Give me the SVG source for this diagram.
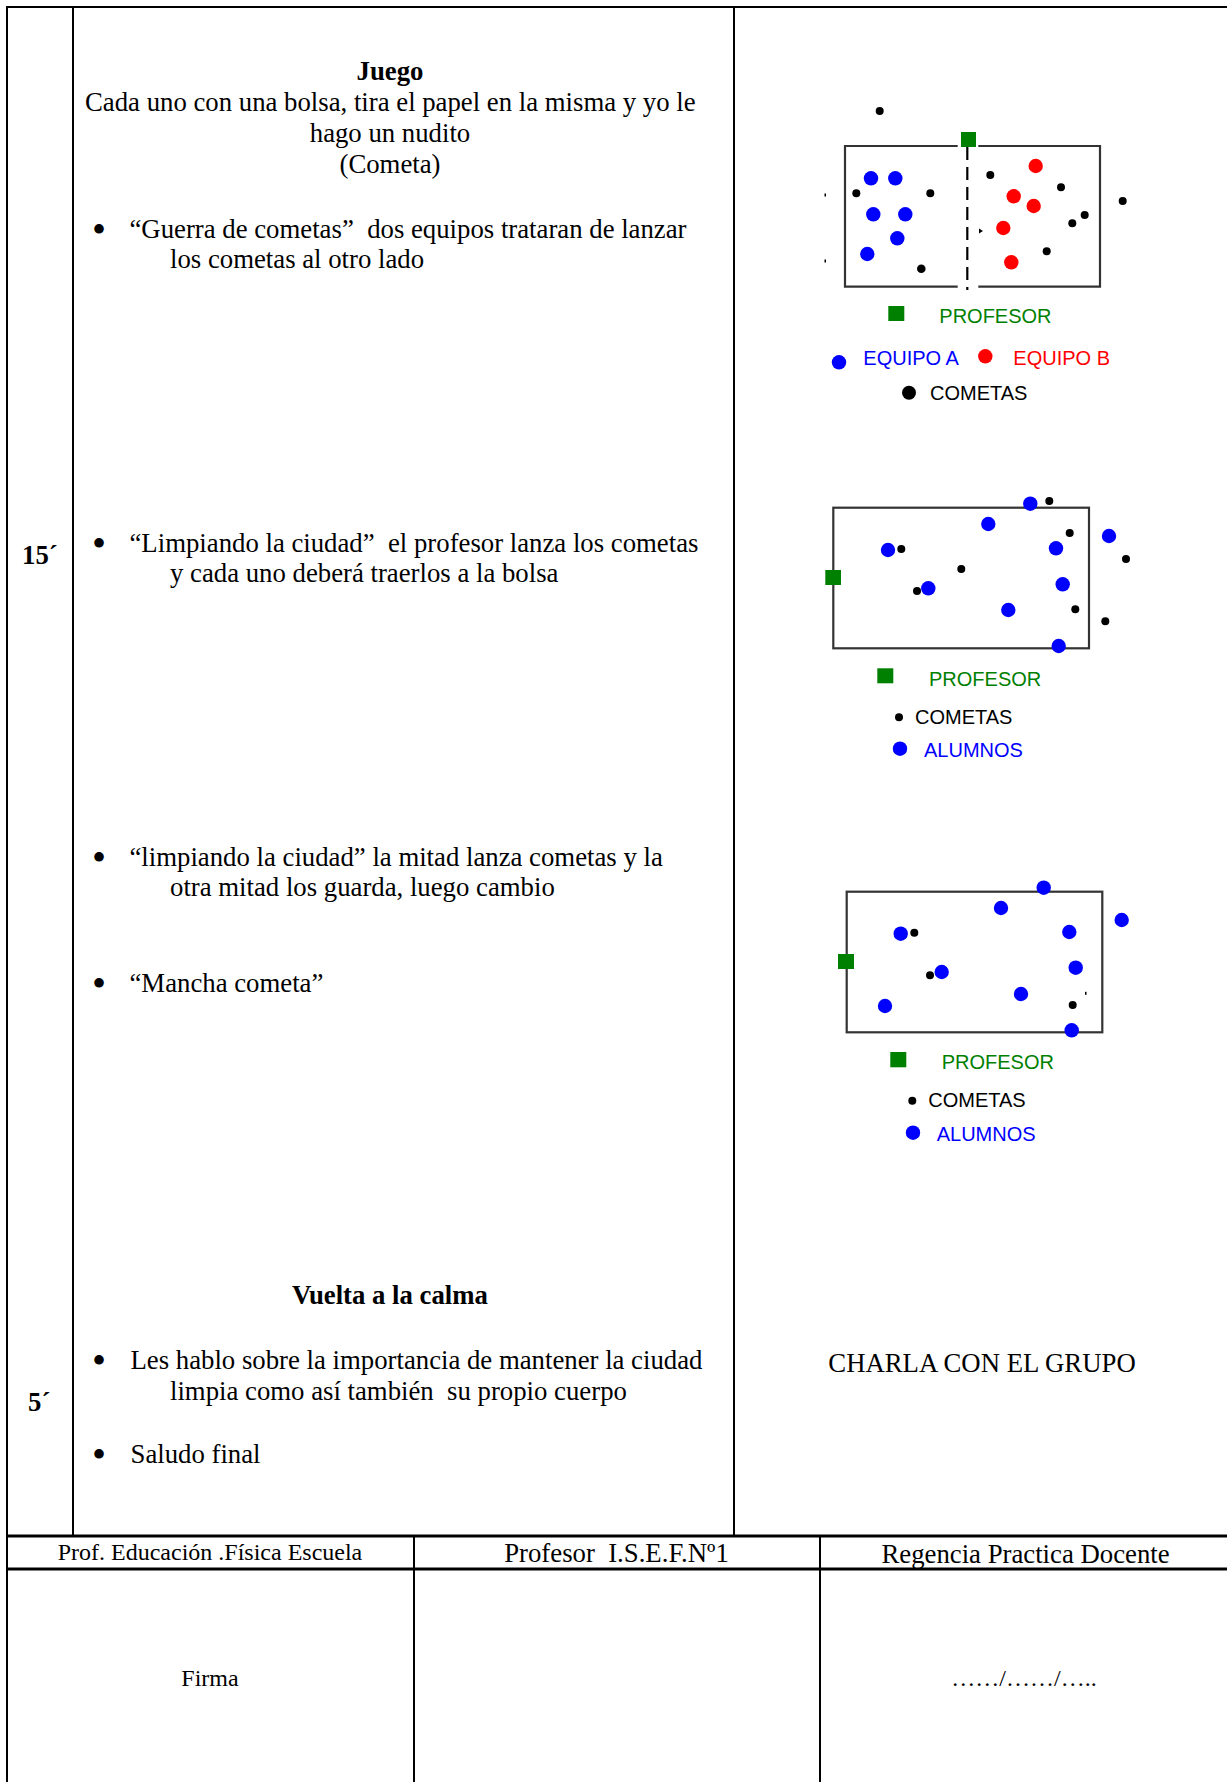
<svg xmlns="http://www.w3.org/2000/svg" width="1227" height="1782" viewBox="0 0 1227 1782">
<style>
text{white-space:pre}
.t{font-family:"Liberation Serif","Times New Roman",serif;font-size:26.75px;fill:#000}
.tb{font-family:"Liberation Serif","Times New Roman",serif;font-size:26.75px;font-weight:bold;fill:#000}
.ts{font-family:"Liberation Serif","Times New Roman",serif;font-size:24px;fill:#000}
.bu{font-family:"Liberation Serif","Times New Roman",serif;font-size:40px;fill:#000}
.c{text-anchor:middle}
.lg{font-family:"Liberation Sans",Arial,sans-serif;font-size:20px}
.g{fill:#008000}
.bl{fill:#0000ff}
.rd{fill:#ff0000}
.k{fill:#000}
.ln{stroke:#000;stroke-width:2;fill:none}
.lt{stroke:#000;stroke-width:3;fill:none}
.fld{stroke:#333;stroke-width:2.2;fill:none}
</style>
<rect width="1227" height="1782" fill="#fff"/>
<g id="table">
<line class="ln" x1="6" y1="7" x2="1227" y2="7"/>
<line class="ln" x1="7" y1="6" x2="7" y2="1782"/>
<line class="ln" x1="73" y1="7" x2="73" y2="1536"/>
<line class="ln" x1="734" y1="7" x2="734" y2="1536"/>
<line class="lt" x1="6" y1="1536" x2="1227" y2="1536"/>
<line class="lt" x1="6" y1="1569" x2="1227" y2="1569"/>
<line class="ln" x1="414" y1="1536" x2="414" y2="1782"/>
<line class="ln" x1="820" y1="1536" x2="820" y2="1782"/>
</g>
<g id="time-labels">
<text class="tb" x="22" y="564">15´</text>
<text class="tb" x="28" y="1411">5´</text>
</g>
<g id="activities">
<text class="tb c" x="390" y="80">Juego</text>
<text class="t" x="85" y="111">Cada uno con una bolsa, tira el papel en la misma y yo le</text>
<text class="t c" x="390" y="142">hago un nudito</text>
<text class="t c" x="390" y="173">(Cometa)</text>
<text class="bu" x="92" y="243">•</text>
<text class="t" x="129.5" y="238">“Guerra de cometas”  dos equipos trataran de lanzar</text>
<text class="t" x="170" y="268">los cometas al otro lado</text>
<text class="bu" x="92" y="557">•</text>
<text class="t" x="129.5" y="552">“Limpiando la ciudad”  el profesor lanza los cometas</text>
<text class="t" x="170" y="582">y cada uno deberá traerlos a la bolsa</text>
<text class="bu" x="92" y="871">•</text>
<text class="t" x="129.5" y="866">“limpiando la ciudad” la mitad lanza cometas y la</text>
<text class="t" x="170" y="896">otra mitad los guarda, luego cambio</text>
<text class="bu" x="92" y="997">•</text>
<text class="t" x="129.5" y="992">“Mancha cometa”</text>
<text class="tb c" x="390" y="1304">Vuelta a la calma</text>
<text class="bu" x="92" y="1374">•</text>
<text class="t" x="130.5" y="1369">Les hablo sobre la importancia de mantener la ciudad</text>
<text class="t" x="170" y="1400">limpia como así también  su propio cuerpo</text>
<text class="bu" x="92" y="1468">•</text>
<text class="t" x="130.5" y="1463">Saludo final</text>
</g>
<g id="diagram-1">
<path class="fld" d="M957.7 146H845V286.7H957.7M978.3 146H1100V286.7H978.3"/>
<line x1="967.3" y1="147" x2="967.3" y2="290" stroke="#000" stroke-width="2.2" stroke-dasharray="13 7"/>
<rect class="g" x="961" y="132" width="15" height="15"/>
<g class="bl">
<circle cx="871" cy="178.3" r="7.2"/><circle cx="895.3" cy="178.3" r="7.2"/>
<circle cx="873.3" cy="214.3" r="7.2"/><circle cx="905.3" cy="214.3" r="7.2"/>
<circle cx="897.3" cy="238.3" r="7.2"/><circle cx="867.3" cy="254" r="7.2"/>
</g>
<g class="rd">
<circle cx="1035.7" cy="166" r="7.2"/><circle cx="1013.7" cy="196.3" r="7.2"/>
<circle cx="1033.7" cy="206" r="7.2"/><circle cx="1003.3" cy="228" r="7.2"/>
<circle cx="1011.3" cy="262.3" r="7.2"/>
</g>
<g class="k">
<circle cx="879.7" cy="111" r="4"/><circle cx="856.3" cy="193.3" r="4"/>
<circle cx="930.3" cy="193.3" r="4"/><circle cx="921.3" cy="268.7" r="4.3"/>
<circle cx="990.3" cy="175" r="4"/><circle cx="1061" cy="187.3" r="4"/>
<circle cx="1122.7" cy="201" r="4"/><circle cx="1084.7" cy="215" r="4"/>
<circle cx="1072.3" cy="223.3" r="4"/><circle cx="1046.7" cy="251.3" r="4"/>
<rect x="824.5" y="193.5" width="1.5" height="3"/><rect x="824.5" y="259.5" width="1.5" height="3"/>
<path d="M979 228.5L983 231L979 233.5Z"/>
</g>
<rect class="g" x="888.3" y="306" width="16" height="15"/>
<text class="lg g" x="939.3" y="323.3">PROFESOR</text>
<circle class="bl" cx="839" cy="362.3" r="7.2"/>
<text class="lg bl" x="863.3" y="364.5">EQUIPO A</text>
<circle class="rd" cx="985.3" cy="356.3" r="7.2"/>
<text class="lg rd" x="1013.3" y="365">EQUIPO B</text>
<circle class="k" cx="909" cy="392.7" r="7"/>
<text class="lg k" x="930" y="399.5">COMETAS</text>
</g>
<g id="diagram-2">
<rect class="fld" x="833.3" y="507.7" width="255.7" height="140.6"/>
<rect class="g" x="825.3" y="570" width="15.7" height="15"/>
<g class="bl">
<circle cx="1030.3" cy="503.7" r="7.2"/><circle cx="988.3" cy="524" r="7.2"/>
<circle cx="888" cy="550" r="7.2"/><circle cx="1056" cy="548.3" r="7.2"/>
<circle cx="1109" cy="536" r="7.2"/><circle cx="1062.7" cy="584.3" r="7.2"/>
<circle cx="928.3" cy="588.3" r="7.2"/><circle cx="1008.3" cy="610" r="7.2"/>
<circle cx="1058.7" cy="646" r="7.2"/>
</g>
<g class="k">
<circle cx="1049.3" cy="501" r="4"/><circle cx="1069.7" cy="533" r="4"/>
<circle cx="901.3" cy="549" r="4"/><circle cx="1126" cy="559" r="4"/>
<circle cx="961.3" cy="569" r="4"/><circle cx="917" cy="591" r="4"/>
<circle cx="1075.3" cy="609.3" r="4"/><circle cx="1105.3" cy="621.3" r="4"/>
</g>
<rect class="g" x="877.3" y="668.3" width="16" height="15"/>
<text class="lg g" x="929" y="685.5">PROFESOR</text>
<circle class="k" cx="899" cy="717.3" r="4"/>
<text class="lg k" x="915" y="724">COMETAS</text>
<circle class="bl" cx="900" cy="748.7" r="7.2"/>
<text class="lg bl" x="924" y="756.7">ALUMNOS</text>
</g>
<g id="diagram-3">
<rect class="fld" x="846.7" y="891.7" width="255.6" height="140.6"/>
<rect class="g" x="838" y="954" width="16" height="15"/>
<g class="bl">
<circle cx="1043.7" cy="887.7" r="7.2"/><circle cx="1001" cy="908" r="7.2"/>
<circle cx="900.7" cy="933.7" r="7.2"/><circle cx="1069.3" cy="932" r="7.2"/>
<circle cx="1121.7" cy="920" r="7.2"/><circle cx="1075.7" cy="967.7" r="7.2"/>
<circle cx="941.7" cy="972" r="7.2"/><circle cx="1021" cy="994" r="7.2"/>
<circle cx="885" cy="1006" r="7.2"/><circle cx="1071.7" cy="1030.3" r="7.2"/>
</g>
<g class="k">
<circle cx="914.3" cy="932.7" r="4"/><circle cx="930" cy="975.3" r="4"/>
<circle cx="1072.7" cy="1005" r="4"/>
<rect x="1085" y="991.8" width="1.5" height="3"/>
</g>
<rect class="g" x="890.3" y="1052" width="16" height="15.3"/>
<text class="lg g" x="941.7" y="1069.3">PROFESOR</text>
<circle class="k" cx="912.3" cy="1100.7" r="4"/>
<text class="lg k" x="928.3" y="1107.3">COMETAS</text>
<circle class="bl" cx="913" cy="1132.7" r="7.2"/>
<text class="lg bl" x="936.7" y="1140.7">ALUMNOS</text>
</g>
<g id="closing">
<text class="t c" x="982" y="1371.5">CHARLA CON EL GRUPO</text>
</g>
<g id="signatures">
<text class="ts c" x="210" y="1560">Prof. Educación .Física Escuela</text>
<text class="t c" x="616.5" y="1562">Profesor  I.S.E.F.Nº1</text>
<text class="t c" x="1025.5" y="1563">Regencia Practica Docente</text>
<text class="ts c" x="210" y="1686">Firma</text>
<text class="ts c" x="1024" y="1686">……/……/…..</text>
</g>
</svg>
